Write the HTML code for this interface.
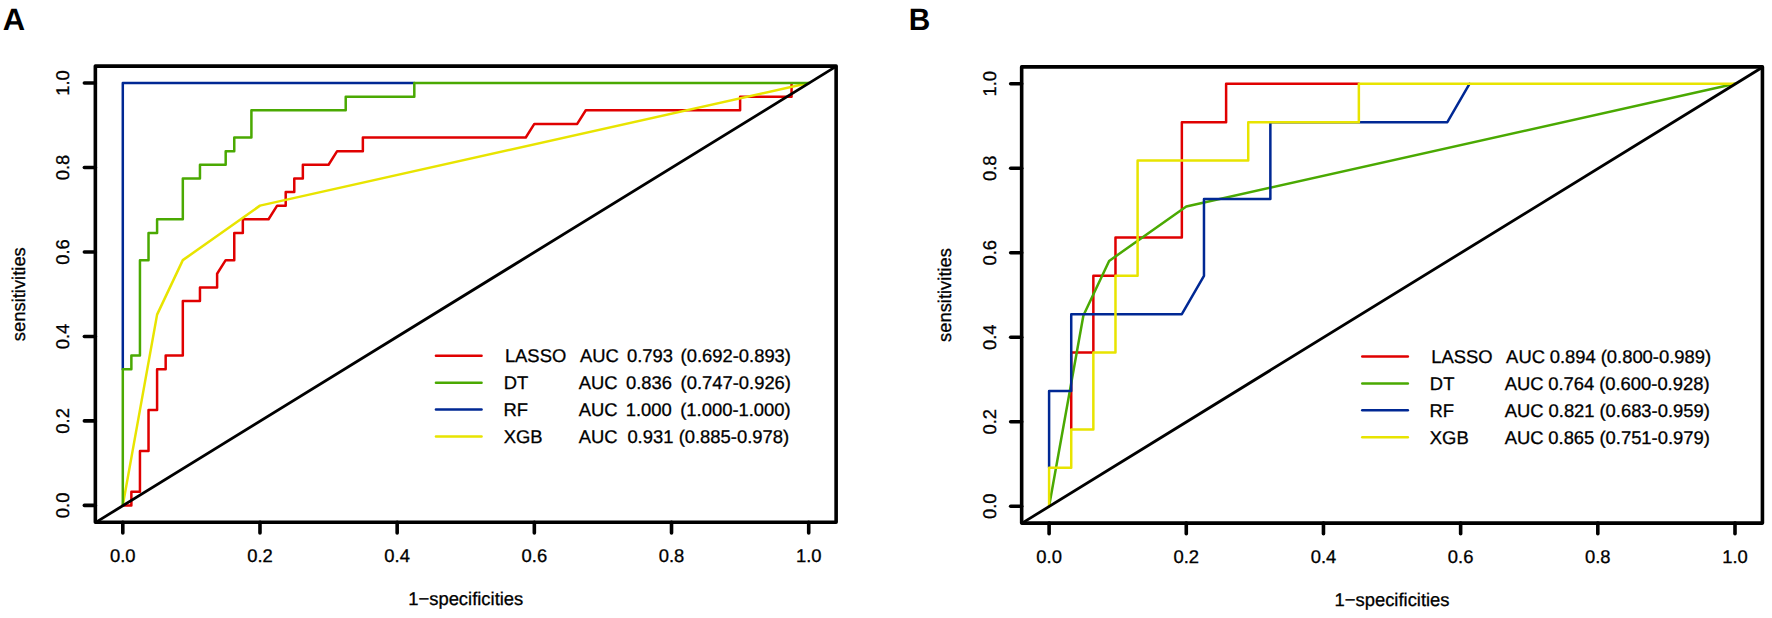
<!DOCTYPE html>
<html><head><meta charset="utf-8"><title>ROC curves</title>
<style>
html,body{margin:0;padding:0;background:#fff;}
body{width:1772px;height:618px;overflow:hidden;}
svg{display:block;}
text{font-family:"Liberation Sans",Arial,Helvetica,sans-serif;font-size:18.4px;fill:#000;stroke:#000;stroke-width:0.3px;text-rendering:geometricPrecision;}
</style></head>
<body>
<svg width="1772" height="618" viewBox="0 0 1772 618">
<rect width="1772" height="618" fill="#fff"/>
<path d="M122.80 505.40 L131.37 505.40 L131.37 491.77 L139.95 491.77 L139.95 450.90 L148.52 450.90 L148.52 410.02 L157.09 410.02 L157.09 369.14 L165.67 369.14 L165.67 355.52 L182.82 355.52 L182.82 301.01 L199.96 301.01 L199.96 287.39 L217.11 287.39 L217.11 273.76 L225.69 260.14 L234.26 260.14 L234.26 232.88 L242.83 232.88 L242.83 219.26 L268.55 219.26 L277.13 205.63 L285.70 205.63 L285.70 192.01 L294.27 192.01 L294.27 178.38 L302.85 178.38 L302.85 164.75 L328.57 164.75 L337.14 151.13 L362.86 151.13 L362.86 137.50 L525.77 137.50 L534.34 123.88 L577.21 123.88 L585.78 110.25 L740.11 110.25 L740.11 96.63 L791.55 96.63 L791.55 84.36" stroke="#E00000" stroke-width="2.50" fill="none" stroke-linejoin="round" stroke-linecap="round"/>
<path d="M122.80 369.14 L122.80 83.00 L414.31 83.00" stroke="#002894" stroke-width="2.50" fill="none" stroke-linejoin="round" stroke-linecap="round"/>
<path d="M122.80 505.40 L157.09 314.64 L182.82 260.14 L259.98 205.63 L808.70 83.00" stroke="#E8E400" stroke-width="2.50" fill="none" stroke-linejoin="round" stroke-linecap="round"/>
<path d="M122.80 505.40 L122.80 369.14 L131.37 369.14 L131.37 355.52 L139.95 355.52 L139.95 260.14 L148.52 260.14 L148.52 232.88 L157.09 232.88 L157.09 219.26 L182.82 219.26 L182.82 178.38 L199.96 178.38 L199.96 164.75 L225.69 164.75 L225.69 151.13 L234.26 151.13 L234.26 137.50 L251.41 137.50 L251.41 110.25 L345.72 110.25 L345.72 96.63 L414.31 96.63 L414.31 83.00 L808.70 83.00" stroke="#4AA902" stroke-width="2.50" fill="none" stroke-linejoin="round" stroke-linecap="round"/>
<line x1="95.36" y1="522.60" x2="836.14" y2="66.40" stroke="#000" stroke-width="2.80" stroke-linecap="butt"/>
<rect x="95.36" y="66.10" width="740.77" height="456.19" fill="none" stroke="#000" stroke-width="3.60" stroke-linejoin="round"/>
<line x1="95.36" y1="505.40" x2="84.36" y2="505.40" stroke="#000" stroke-width="3.60" stroke-linecap="round"/>
<line x1="122.80" y1="522.30" x2="122.80" y2="532.90" stroke="#000" stroke-width="3.60" stroke-linecap="round"/>
<text x="122.80" y="562.10" text-anchor="middle">0.0</text>
<text transform="translate(69.30 505.40) rotate(-90)" text-anchor="middle">0.0</text>
<line x1="95.36" y1="420.92" x2="84.36" y2="420.92" stroke="#000" stroke-width="3.60" stroke-linecap="round"/>
<line x1="259.98" y1="522.30" x2="259.98" y2="532.90" stroke="#000" stroke-width="3.60" stroke-linecap="round"/>
<text x="259.98" y="562.10" text-anchor="middle">0.2</text>
<text transform="translate(69.30 420.92) rotate(-90)" text-anchor="middle">0.2</text>
<line x1="95.36" y1="336.44" x2="84.36" y2="336.44" stroke="#000" stroke-width="3.60" stroke-linecap="round"/>
<line x1="397.16" y1="522.30" x2="397.16" y2="532.90" stroke="#000" stroke-width="3.60" stroke-linecap="round"/>
<text x="397.16" y="562.10" text-anchor="middle">0.4</text>
<text transform="translate(69.30 336.44) rotate(-90)" text-anchor="middle">0.4</text>
<line x1="95.36" y1="251.96" x2="84.36" y2="251.96" stroke="#000" stroke-width="3.60" stroke-linecap="round"/>
<line x1="534.34" y1="522.30" x2="534.34" y2="532.90" stroke="#000" stroke-width="3.60" stroke-linecap="round"/>
<text x="534.34" y="562.10" text-anchor="middle">0.6</text>
<text transform="translate(69.30 251.96) rotate(-90)" text-anchor="middle">0.6</text>
<line x1="95.36" y1="167.48" x2="84.36" y2="167.48" stroke="#000" stroke-width="3.60" stroke-linecap="round"/>
<line x1="671.52" y1="522.30" x2="671.52" y2="532.90" stroke="#000" stroke-width="3.60" stroke-linecap="round"/>
<text x="671.52" y="562.10" text-anchor="middle">0.8</text>
<text transform="translate(69.30 167.48) rotate(-90)" text-anchor="middle">0.8</text>
<line x1="95.36" y1="83.00" x2="84.36" y2="83.00" stroke="#000" stroke-width="3.60" stroke-linecap="round"/>
<line x1="808.70" y1="522.30" x2="808.70" y2="532.90" stroke="#000" stroke-width="3.60" stroke-linecap="round"/>
<text x="808.70" y="562.10" text-anchor="middle">1.0</text>
<text transform="translate(69.30 83.00) rotate(-90)" text-anchor="middle">1.0</text>
<text x="465.75" y="605.40" text-anchor="middle">1−specificities</text>
<text transform="translate(25.10 294.20) rotate(-90)" text-anchor="middle">sensitivities</text>
<line x1="435.95" y1="355.80" x2="481.55" y2="355.80" stroke="#E00000" stroke-width="2.50" stroke-linecap="round"/>
<text x="504.88" y="362.20">LASSO</text>
<text x="580.01" y="362.20">AUC</text>
<text x="627.02" y="362.20">0.793</text>
<text x="680.56" y="362.20">(0.692-0.893)</text>
<line x1="435.95" y1="382.70" x2="481.55" y2="382.70" stroke="#4AA902" stroke-width="2.50" stroke-linecap="round"/>
<text x="503.64" y="389.10">DT</text>
<text x="578.80" y="389.10">AUC</text>
<text x="625.97" y="389.10">0.836</text>
<text x="680.56" y="389.10">(0.747-0.926)</text>
<line x1="435.95" y1="409.50" x2="481.55" y2="409.50" stroke="#002894" stroke-width="2.50" stroke-linecap="round"/>
<text x="503.57" y="415.90">RF</text>
<text x="578.80" y="415.90">AUC</text>
<text x="625.70" y="415.90">1.000</text>
<text x="680.26" y="415.90">(1.000-1.000)</text>
<line x1="435.95" y1="436.40" x2="481.55" y2="436.40" stroke="#E8E400" stroke-width="2.50" stroke-linecap="round"/>
<text x="503.65" y="442.80">XGB</text>
<text x="578.80" y="442.80">AUC</text>
<text x="627.40" y="442.80">0.931</text>
<text x="678.66" y="442.80">(0.885-0.978)</text>
<text transform="translate(13.85 29.90) scale(1.000 1)" text-anchor="middle" style="font-weight:bold;font-size:31px;stroke:none">A</text>
<path d="M1071.23 429.40 L1071.23 352.60 L1093.35 352.60 L1093.35 275.80 L1115.48 275.80 L1115.48 237.40 L1181.85 237.40 L1181.85 122.20 L1226.11 122.20 L1226.11 83.80 L1358.86 83.80" stroke="#E00000" stroke-width="2.50" fill="none" stroke-linejoin="round" stroke-linecap="round"/>
<path d="M1049.10 506.20 L1083.39 315.44 L1109.12 260.94 L1186.28 206.43 L1735.00 83.80" stroke="#4AA902" stroke-width="2.50" fill="none" stroke-linejoin="round" stroke-linecap="round"/>
<path d="M1049.10 467.80 L1049.10 391.00 L1071.23 391.00 L1071.23 314.20 L1181.85 314.20 L1203.98 275.80 L1203.98 199.00 L1270.36 199.00 L1270.36 122.20 L1447.36 122.20 L1469.49 83.80" stroke="#002894" stroke-width="2.50" fill="none" stroke-linejoin="round" stroke-linecap="round"/>
<path d="M1049.10 506.20 L1049.10 467.80 L1071.23 467.80 L1071.23 429.40 L1093.35 429.40 L1093.35 352.60 L1115.48 352.60 L1115.48 275.80 L1137.60 275.80 L1137.60 160.60 L1248.23 160.60 L1248.23 122.20 L1358.86 122.20 L1358.86 83.80 L1735.00 83.80" stroke="#E8E400" stroke-width="2.50" fill="none" stroke-linejoin="round" stroke-linecap="round"/>
<line x1="1021.66" y1="523.40" x2="1762.44" y2="67.20" stroke="#000" stroke-width="2.80" stroke-linecap="butt"/>
<rect x="1021.66" y="66.90" width="740.77" height="456.19" fill="none" stroke="#000" stroke-width="3.60" stroke-linejoin="round"/>
<line x1="1021.66" y1="506.20" x2="1010.66" y2="506.20" stroke="#000" stroke-width="3.60" stroke-linecap="round"/>
<line x1="1049.10" y1="523.10" x2="1049.10" y2="533.70" stroke="#000" stroke-width="3.60" stroke-linecap="round"/>
<text x="1049.10" y="562.90" text-anchor="middle">0.0</text>
<text transform="translate(995.60 506.20) rotate(-90)" text-anchor="middle">0.0</text>
<line x1="1021.66" y1="421.72" x2="1010.66" y2="421.72" stroke="#000" stroke-width="3.60" stroke-linecap="round"/>
<line x1="1186.28" y1="523.10" x2="1186.28" y2="533.70" stroke="#000" stroke-width="3.60" stroke-linecap="round"/>
<text x="1186.28" y="562.90" text-anchor="middle">0.2</text>
<text transform="translate(995.60 421.72) rotate(-90)" text-anchor="middle">0.2</text>
<line x1="1021.66" y1="337.24" x2="1010.66" y2="337.24" stroke="#000" stroke-width="3.60" stroke-linecap="round"/>
<line x1="1323.46" y1="523.10" x2="1323.46" y2="533.70" stroke="#000" stroke-width="3.60" stroke-linecap="round"/>
<text x="1323.46" y="562.90" text-anchor="middle">0.4</text>
<text transform="translate(995.60 337.24) rotate(-90)" text-anchor="middle">0.4</text>
<line x1="1021.66" y1="252.76" x2="1010.66" y2="252.76" stroke="#000" stroke-width="3.60" stroke-linecap="round"/>
<line x1="1460.64" y1="523.10" x2="1460.64" y2="533.70" stroke="#000" stroke-width="3.60" stroke-linecap="round"/>
<text x="1460.64" y="562.90" text-anchor="middle">0.6</text>
<text transform="translate(995.60 252.76) rotate(-90)" text-anchor="middle">0.6</text>
<line x1="1021.66" y1="168.28" x2="1010.66" y2="168.28" stroke="#000" stroke-width="3.60" stroke-linecap="round"/>
<line x1="1597.82" y1="523.10" x2="1597.82" y2="533.70" stroke="#000" stroke-width="3.60" stroke-linecap="round"/>
<text x="1597.82" y="562.90" text-anchor="middle">0.8</text>
<text transform="translate(995.60 168.28) rotate(-90)" text-anchor="middle">0.8</text>
<line x1="1021.66" y1="83.80" x2="1010.66" y2="83.80" stroke="#000" stroke-width="3.60" stroke-linecap="round"/>
<line x1="1735.00" y1="523.10" x2="1735.00" y2="533.70" stroke="#000" stroke-width="3.60" stroke-linecap="round"/>
<text x="1735.00" y="562.90" text-anchor="middle">1.0</text>
<text transform="translate(995.60 83.80) rotate(-90)" text-anchor="middle">1.0</text>
<text x="1392.05" y="606.20" text-anchor="middle">1−specificities</text>
<text transform="translate(951.40 295.00) rotate(-90)" text-anchor="middle">sensitivities</text>
<line x1="1362.25" y1="356.60" x2="1407.85" y2="356.60" stroke="#E00000" stroke-width="2.50" stroke-linecap="round"/>
<text x="1431.20" y="363.00">LASSO</text>
<text x="1506.12" y="363.00">AUC</text>
<text x="1549.66" y="363.00">0.894</text>
<text x="1600.69" y="363.00">(0.800-0.989)</text>
<line x1="1362.25" y1="383.50" x2="1407.85" y2="383.50" stroke="#4AA902" stroke-width="2.50" stroke-linecap="round"/>
<text x="1429.87" y="389.90">DT</text>
<text x="1504.66" y="389.90">AUC</text>
<text x="1548.19" y="389.90">0.764</text>
<text x="1599.14" y="389.90">(0.600-0.928)</text>
<line x1="1362.25" y1="410.30" x2="1407.85" y2="410.30" stroke="#002894" stroke-width="2.50" stroke-linecap="round"/>
<text x="1429.42" y="416.70">RF</text>
<text x="1504.80" y="416.70">AUC</text>
<text x="1548.55" y="416.70">0.821</text>
<text x="1599.44" y="416.70">(0.683-0.959)</text>
<line x1="1362.25" y1="437.20" x2="1407.85" y2="437.20" stroke="#E8E400" stroke-width="2.50" stroke-linecap="round"/>
<text x="1429.84" y="443.60">XGB</text>
<text x="1504.80" y="443.60">AUC</text>
<text x="1548.30" y="443.60">0.865</text>
<text x="1599.44" y="443.60">(0.751-0.979)</text>
<text transform="translate(919.40 29.90) scale(0.962 1)" text-anchor="middle" style="font-weight:bold;font-size:31px;stroke:none">B</text>
</svg>
</body></html>
